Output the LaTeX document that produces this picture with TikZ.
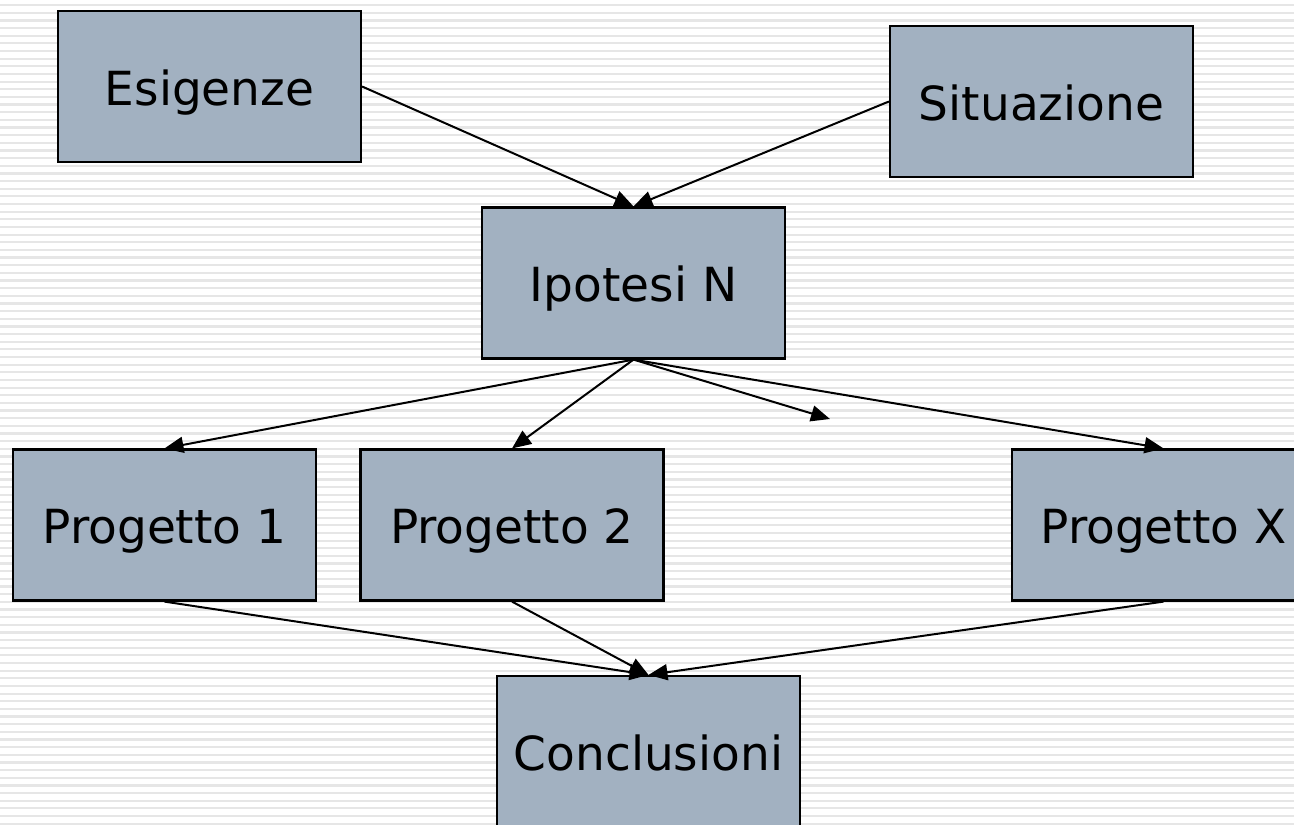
\documentclass[tikz,border=0pt]{standalone}
\usepackage{fontspec}
\setmainfont{DejaVu Sans}
\usetikzlibrary{arrows.meta}
\definecolor{boxfill}{HTML}{A2B1C1}
\definecolor{stripe}{HTML}{E6E6E6}
\begin{document}
\begin{tikzpicture}[x=1pt,y=-1pt,
  box/.style={draw=black,line width=2.2pt,fill=boxfill,minimum width=303pt,minimum height=151pt,inner sep=0pt,
    font=\fontsize{47}{56}\selectfont,text height=37pt,text depth=0pt,anchor=center},
  conn/.style={line width=2pt,-{Triangle[length=19pt,width=16pt]}}]
\useasboundingbox (0,0) rectangle (1294,825);
\fill[white] (0,0) rectangle (1294,825);
\foreach \i in {0,...,108} {
  \fill[stripe] (0,{4+\i*7.65}) rectangle (1294,{6.2+\i*7.65});
}
\node[box] (esig) at (209.5,86.5) {Esigenze};
\node[box] (situ) at (1041.5,101.5) {Situazione};
\node[box] (ipot) at (633.5,283) {Ipotesi N};
\node[box] (p1) at (164.5,525) {Progetto 1};
\node[box] (p2) at (512,525) {Progetto 2};
\node[box] (px) at (1163.5,525) {Progetto X};
\node[box] (conc) at (648.5,751.5) {Conclusioni};
\coordinate (free) at (830,419);
\draw[conn] (esig.east) -- (ipot.north);
\draw[conn] (situ.west) -- (ipot.north);
\draw[conn] (ipot.south) -- (p1.north);
\draw[conn] (ipot.south) -- (p2.north);
\draw[conn] (ipot.south) -- (free);
\draw[conn] (ipot.south) -- (px.north);
\draw[conn] (p1.south) -- (conc.north);
\draw[conn] (p2.south) -- (conc.north);
\draw[conn] (px.south) -- (conc.north);
\end{tikzpicture}
\end{document}
